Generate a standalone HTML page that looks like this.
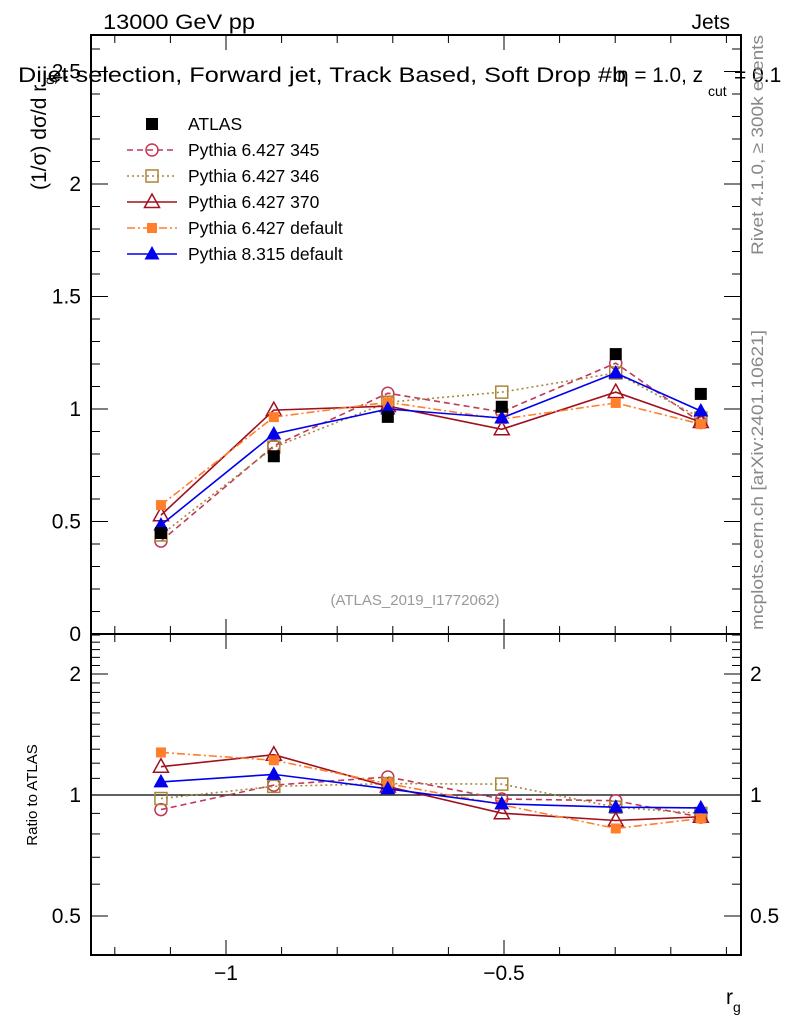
<!DOCTYPE html>
<html><head><meta charset="utf-8"><style>
body{margin:0;background:#fff;}
svg{display:block;font-family:"Liberation Sans",sans-serif;}
</style></head><body>
<svg id="chart" width="786" height="1024" xmlns="http://www.w3.org/2000/svg">
<g id="main-ax"></g>
<g id="ratio-ax"></g>
<text x="103" y="29" font-size="21" textLength="152" lengthAdjust="spacingAndGlyphs">13000 GeV pp</text>
<text x="730" y="29" font-size="21" text-anchor="end">Jets</text>
<text x="18" y="82" font-size="21" textLength="608" lengthAdjust="spacingAndGlyphs">Dijet selection, Forward jet, Track Based, Soft Drop #b</text>
<text x="617" y="82" font-size="21" textLength="86" lengthAdjust="spacingAndGlyphs">η = 1.0, z</text>
<text x="708" y="96" font-size="14">cut</text>
<text x="734" y="82" font-size="21">= 0.1</text>
<text transform="translate(46,190) rotate(-90)" font-size="21">(1/σ) dσ/d r<tspan font-size="14" dy="8">g</tspan></text>
<text transform="translate(37,795) rotate(-90)" font-size="15" text-anchor="middle">Ratio to ATLAS</text>
<text x="726" y="1004" font-size="21">r<tspan font-size="14" dy="8">g</tspan></text>
<text transform="translate(763,255) rotate(-90)" font-size="17" fill="#888" textLength="220" lengthAdjust="spacingAndGlyphs">Rivet 4.1.0, ≥ 300k events</text>
<text transform="translate(763,630) rotate(-90)" font-size="17" fill="#888" textLength="300" lengthAdjust="spacingAndGlyphs">mcplots.cern.ch [arXiv:2401.10621]</text>
<text x="415" y="605" font-size="15" fill="#999" text-anchor="middle">(ATLAS_2019_I1772062)</text>
<g id="legend"></g>
</svg>
<script>
const categories=[-1.117,-0.914,-0.709,-0.504,-0.299,-0.146];
const atlas=[0.449,0.79,0.965,1.01,1.244,1.067];
const py345=[0.413,0.836,1.07,0.987,1.204,0.94];
const py346=[0.44,0.83,1.03,1.075,1.16,0.96];
const py370=[0.528,0.995,1.013,0.91,1.075,0.942];
const py6def=[0.573,0.964,1.03,0.955,1.027,0.933];
const py8def=[0.484,0.889,1.0,0.96,1.16,0.991];
const mainTicks=[0,0.5,1,1.5,2,2.5];
const ratioTicks=[0.5,1,2];
const xTicks=[-1,-0.5];
const xTickLabels=["−1","−0.5"];

const NS="http://www.w3.org/2000/svg";
const L=91,R=741,T=35,MB=634,RB=955;
const X=v=>226+(v+1)*556;
const Y=v=>634-v*225;
const YR=v=>795-Math.log2(v)*121;
function mk(tag,attrs,parent){const e=document.createElementNS(NS,tag);for(const k in attrs)e.setAttribute(k,attrs[k]);parent.appendChild(e);return e;}
const svg=document.getElementById('chart');
const gm=document.getElementById('main-ax'),gr=document.getElementById('ratio-ax');

let f=mk('rect',{x:L,y:T,width:R-L,height:MB-T,fill:'none',stroke:'#000','stroke-width':2},gm);


f=mk('rect',{x:L,y:MB,width:R-L,height:RB-MB,fill:'none',stroke:'#000','stroke-width':2},gr);



for(let i=0;i<=12;i++){const v=-1.2+i*0.1;const x=X(v);if(x<L||x>R)continue;
 const maj=Math.abs(v+1)<1e-6||Math.abs(v+0.5)<1e-6;const len=maj?15:8;
 [[T,1],[MB,-1],[MB,1],[RB,-1]].forEach(([y,d])=>mk('line',{x1:x,x2:x,y1:y,y2:y+d*len,stroke:'#000','stroke-width':1},svg));}
xTicks.forEach((v,i)=>{const t=mk('text',{x:X(v),y:980,'font-size':21,'text-anchor':'middle'},svg);t.textContent=xTickLabels[i];
 
 });
for(let i=0;i<=26;i++){const v=i*0.1;const y=Y(v);if(y<T)continue;const maj=i%5==0;const len=maj?17:9;
 mk('line',{x1:L,x2:L+len,y1:y,y2:y,stroke:'#000'},gm);mk('line',{x1:R,x2:R-len,y1:y,y2:y,stroke:'#000'},gm);}
mainTicks.forEach(v=>{const t=mk('text',{x:81,y:Y(v)+7,'font-size':21,'text-anchor':'end'},gm);t.textContent=String(v);
 
 });
for(let i=4;i<=25;i++){const v=i/10;const y=YR(v);if(y<MB||y>RB)continue;const maj=(v==0.5||v==1||v==2);const len=maj?17:9;
 mk('line',{x1:L,x2:L+len,y1:y,y2:y,stroke:'#000'},gr);mk('line',{x1:R,x2:R-len,y1:y,y2:y,stroke:'#000'},gr);}
ratioTicks.forEach(v=>{[81,750].forEach((x,j)=>{const t=mk('text',{x:x,y:YR(v)+7,'font-size':21,'text-anchor':j?'start':'end'},gr);t.textContent=String(v);
 
 });});
mk('line',{x1:L,x2:R,y1:YR(1),y2:YR(1),stroke:'#000','stroke-width':1.2},gr);

function marker(type,x,y,color,parent){
 const s=6;
 if(type==='sqfill')return mk('rect',{x:x-s,y:y-s,width:2*s,height:2*s,fill:color},parent);
 if(type==='sqopen')return mk('rect',{x:x-s,y:y-s,width:2*s,height:2*s,fill:'none',stroke:color,'stroke-width':1.5},parent);
 if(type==='circ')return mk('circle',{cx:x,cy:y,r:6,fill:'none',stroke:color,'stroke-width':1.5},parent);
 if(type==='triopen')return mk('polygon',{points:`${x},${y-8} ${x-7.5},${y+5.5} ${x+7.5},${y+5.5}`,fill:'none',stroke:color,'stroke-width':1.5},parent);
 if(type==='trifill')return mk('polygon',{points:`${x},${y-8} ${x-7.5},${y+5.5} ${x+7.5},${y+5.5}`,fill:color},parent);
 if(type==='sqsmall')return mk('rect',{x:x-5,y:y-5,width:10,height:10,fill:color},parent);
}
const series=[
 {name:'Pythia 6.427 345',vals:py345,color:'#c0395a',dash:'6,4',m:'circ',key:'pythia-345'},
 {name:'Pythia 6.427 346',vals:py346,color:'#a8863a',dash:'2,3',m:'sqopen',key:'pythia-346'},
 {name:'Pythia 6.427 370',vals:py370,color:'#a0101e',dash:'',m:'triopen',key:'pythia-370'},
 {name:'Pythia 6.427 default',vals:py6def,color:'#ff7f2a',dash:'8,3,2,3',m:'sqsmall',key:'pythia6-default'},
 {name:'Pythia 8.315 default',vals:py8def,color:'#0000ee',dash:'',m:'trifill',key:'pythia8-default'}];
series.forEach(s=>{
 const g=mk('g',{},gm);
 
 
 mk('polyline',{points:s.vals.map((v,i)=>X(categories[i])+','+Y(v)).join(' '),fill:'none',stroke:s.color,'stroke-width':1.6,'stroke-dasharray':s.dash},g);
 s.vals.forEach((v,i)=>{const m=marker(s.m,X(categories[i]),Y(v),s.color,g);
  
  });
 const g2=mk('g',{},gr);
 
 
 mk('polyline',{points:s.vals.map((v,i)=>X(categories[i])+','+YR(v/atlas[i])).join(' '),fill:'none',stroke:s.color,'stroke-width':1.6,'stroke-dasharray':s.dash},g2);
 s.vals.forEach((v,i)=>{const m=marker(s.m,X(categories[i]),YR(v/atlas[i]),s.color,g2);
  
  });
});
atlas.forEach((v,i)=>{const m=marker('sqfill',X(categories[i]),Y(v),'#000',gm);
 
 });

const lg=document.getElementById('legend');
const le=[{name:'ATLAS',color:'#000',dash:null,m:'sqfill'}].concat(series);
le.forEach((s,i)=>{const y=124+i*26;
 const g=mk('g',{},lg);
 
 
 if(s.dash!==null)mk('line',{x1:127,x2:177,y1:y,y2:y,stroke:s.color,'stroke-width':1.5,'stroke-dasharray':s.dash},g);
 marker(s.m,152,y,s.color,g);
 const t=mk('text',{x:188,y:y+6,'font-size':17.5},g);t.textContent=s.name;});
</script>
</body></html>
